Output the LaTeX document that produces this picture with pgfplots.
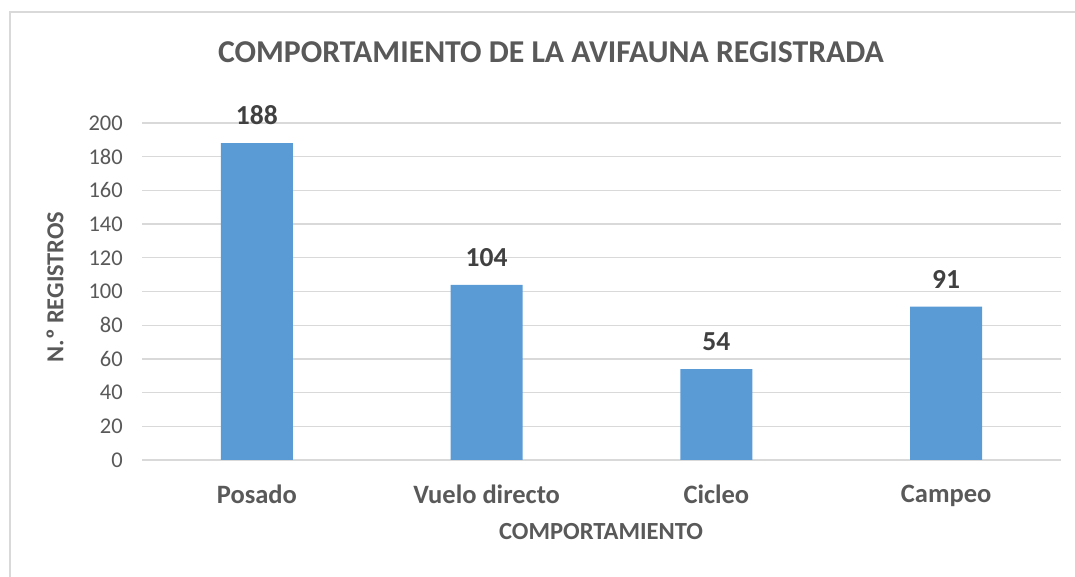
\documentclass[border=0pt]{standalone}
\usepackage{fontspec}
\setmainfont{Carlito}
\usepackage{pgfplots}
\pgfplotsset{compat=1.18}
\definecolor{txt}{HTML}{595959}
\definecolor{dlab}{HTML}{404040}
\definecolor{barc}{HTML}{5B9BD5}
\definecolor{gridc}{HTML}{D9D9D9}
\begin{document}
\begin{tikzpicture}[x=1pt,y=1pt]
\path[use as bounding box] (0,0) rectangle (1075,577);
\draw[gridc, line width=1.5pt] (10,0) -- (10,565) -- (1075,565);
\begin{axis}[
  at={(142pt,117pt)}, anchor=south west,
  scale only axis, width=919pt, height=337pt,
  xmin=-0.5, xmax=3.5, ymin=0, ymax=200,
  ytick={0,20,...,200},
  xtick={0,1,2,3},
  xticklabels={Posado,Vuelo directo,Cicleo,Campeo},
  ymajorgrids, grid style={gridc, line width=1.3pt},
  axis line style={draw=none},
  major tick length=0,
  /pgf/number format/assume math mode=true,
  yticklabel style={anchor=east, inner sep=0pt, xshift=-19pt, font=\fontsize{22.5}{26}\selectfont, text=txt},
  xticklabel style={anchor=north, inner sep=0pt, yshift=-25pt, font=\fontsize{26.5}{30}\selectfont\bfseries, text=txt},
  ybar, bar width=72pt,
  nodes near coords,
  every node near coord/.append style={anchor=south, inner sep=0pt, yshift=18pt, font=\fontsize{27.5}{32}\selectfont\bfseries, text=dlab},
  clip=false,
]
\addplot[fill=barc, draw=none] coordinates {(0,188) (1,104) (2,54) (3,91)};
\end{axis}
\node[text=txt, font=\fontsize{31.8}{36}\selectfont\bfseries] at (551,525) {COMPORTAMIENTO DE LA AVIFAUNA REGISTRADA};
\node[text=txt, font=\fontsize{24.4}{28}\selectfont\bfseries, rotate=90] at (55,290) {N.º REGISTROS};
\node[text=txt, font=\fontsize{24.6}{28}\selectfont\bfseries] at (601,45) {COMPORTAMIENTO};
\end{tikzpicture}
\end{document}
